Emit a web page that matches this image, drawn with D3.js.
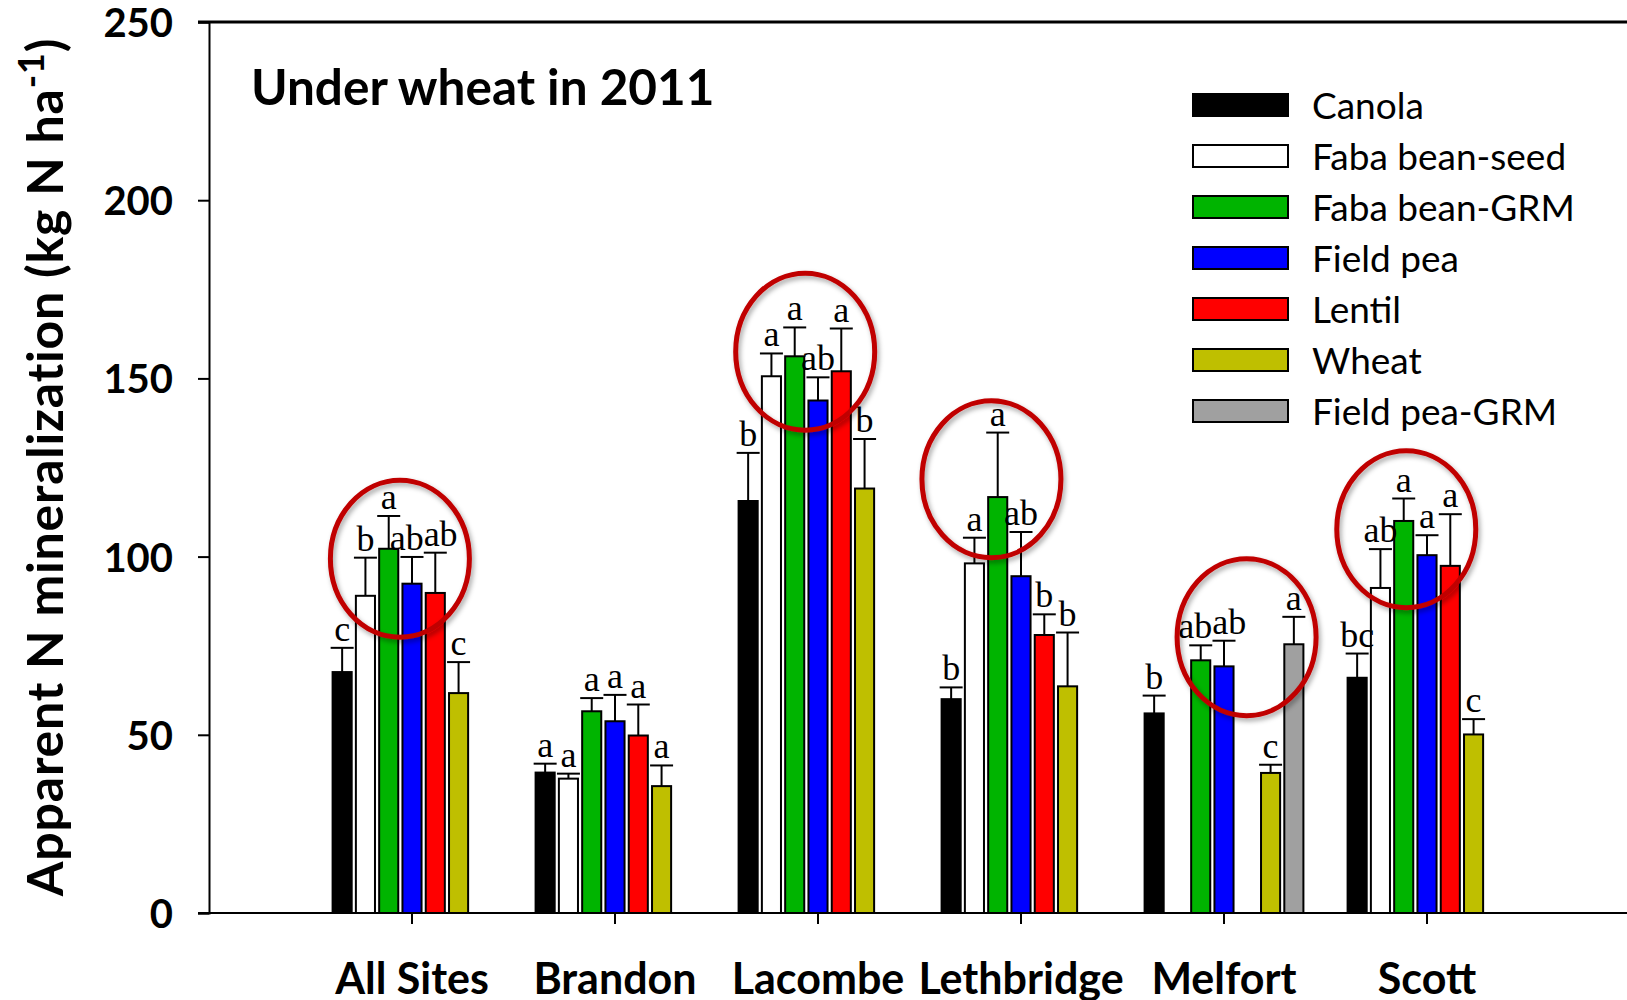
<!DOCTYPE html>
<html>
<head>
<meta charset="utf-8">
<script src="https://cdn.jsdelivr.net/npm/d3@7/dist/d3.min.js"></script>
<style>
  html, body { margin: 0; padding: 0; background: #fff; }
  svg { display: block; }
</style>
</head>
<body>
<svg id="chart" width="1627" height="1000"></svg>
<script>
// Sites along the x axis
const sites = ["All Sites", "Brandon", "Lacombe", "Lethbridge", "Melfort", "Scott"];

// Preceding crop treatments (legend order)
const treatments = ["Canola", "Faba bean-seed", "Faba bean-GRM", "Field pea", "Lentil", "Wheat", "Field pea-GRM"];

// Mean apparent N mineralization (kg N/ha); one row per treatment, one column per site
const means = [
  [67.6, 39.4, 115.6, 60.0, 56.0, 66.0],   // Canola
  [89.0, 37.7, 150.6, 98.1, null, 91.2],   // Faba bean-seed
  [102.2, 56.6, 156.2, 116.7, 70.9, 110.0],// Faba bean-GRM
  [92.4, 53.8, 143.8, 94.5, 69.2, 100.4],  // Field pea
  [89.8, 49.8, 152.0, 78.0, null, 97.4],   // Lentil
  [61.7, 35.6, 119.1, 63.6, 39.3, 50.1],   // Wheat
  [null, null, null, null, 75.4, null]     // Field pea-GRM
];

// Standard errors (upper whisker only)
const errors = [
  [6.8, 2.5, 13.5, 3.3, 5.0, 6.8],
  [10.7, 1.4, 6.4, 7.2, null, 10.9],
  [9.2, 3.7, 8.1, 18.1, 4.2, 6.3],
  [7.5, 7.4, 6.5, 12.4, 7.2, 5.6],
  [11.3, 8.7, 12.0, 5.8, null, 14.5],
  [8.7, 5.8, 13.9, 15.1, 2.3, 4.3],
  [null, null, null, null, 7.7, null]
];

// Mean separation letters
const letters = [
  ["c", "a", "b", "b", "b", "bc"],
  ["b", "a", "a", "a", null, "ab"],
  ["a", "a", "a", "a", "ab", "a"],
  ["ab", "a", "ab", "ab", "ab", "a"],
  ["ab", "a", "a", "b", null, "a"],
  ["c", "a", "b", "b", "c", "c"],
  [null, null, null, null, "a", null]
];

// y axis tick values
const yTicks = [0, 50, 100, 150, 200, 250];

// Highlight rings: site, horizontal offset in bar slots, centre value
const ringSites   = ["All Sites", "Lacombe", "Lethbridge", "Melfort", "Scott"];
const ringOffsets = [-0.52, -0.55, -1.27, 0.97, -0.89];
const ringCentres = [99.4, 157.5, 121.7, 77.4, 107.7];

// ---- styling ----
const fills = {
  "Canola": "#000000",
  "Faba bean-seed": "#ffffff",
  "Faba bean-GRM": "#00b400",
  "Field pea": "#0000ff",
  "Lentil": "#ff0000",
  "Wheat": "#bfbf00",
  "Field pea-GRM": "#a0a0a0"
};
const sans = "Lato, 'Open Sans', sans-serif";

const svg = d3.select("#chart");
const W = 1627;
const plot = { left: 209, top: 22, bottom: 913 };

const y = d3.scaleLinear().domain([0, 250]).range([plot.bottom, plot.top]);

const x0 = d3.scaleBand().domain(sites).range([310.5, 1528.5]).paddingInner(0).paddingOuter(0);
const x1 = d3.scaleBand().domain(treatments)
  .range([x0.bandwidth() / 2 - 81.5, x0.bandwidth() / 2 + 81.5])
  .paddingInner(0.18).paddingOuter(0.09);
const slot = x1.step();

// drop shadow for the highlight rings
const defs = svg.append("defs");
const f = defs.append("filter").attr("id", "ringShadow")
  .attr("x", "-20%").attr("y", "-20%").attr("width", "140%").attr("height", "140%");
f.append("feDropShadow").attr("dx", 2).attr("dy", 3).attr("stdDeviation", 2.5)
  .attr("flood-color", "#000").attr("flood-opacity", 0.35);

// ---- bars ----
const cells = [];
treatments.forEach((t, ti) => {
  sites.forEach((s, si) => {
    const v = means[ti][si];
    if (v == null) return;
    cells.push({ t, s, v, e: errors[ti][si], l: letters[ti][si] });
  });
});

const g = svg.append("g");

g.selectAll("rect.bar").data(cells).join("rect")
  .attr("class", "bar")
  .attr("x", d => x0(d.s) + x1(d.t))
  .attr("y", d => y(d.v))
  .attr("width", x1.bandwidth())
  .attr("height", d => y(0) - y(d.v))
  .attr("fill", d => fills[d.t])
  .attr("stroke", "#000")
  .attr("stroke-width", 2);

// error bars
const cx = d => x0(d.s) + x1(d.t) + x1.bandwidth() / 2;
g.selectAll("line.err").data(cells).join("line")
  .attr("class", "err")
  .attr("x1", cx).attr("x2", cx)
  .attr("y1", d => y(d.v)).attr("y2", d => y(d.v + d.e))
  .attr("stroke", "#000").attr("stroke-width", 2);
g.selectAll("line.cap").data(cells).join("line")
  .attr("class", "cap")
  .attr("x1", d => cx(d) - 11.5).attr("x2", d => cx(d) + 11.5)
  .attr("y1", d => y(d.v + d.e)).attr("y2", d => y(d.v + d.e))
  .attr("stroke", "#000").attr("stroke-width", 2);

// letters above the whiskers
const sig = g.selectAll("text.sig").data(cells.filter(d => d.l)).join("text")
  .attr("class", "sig")
  .attr("x", cx)
  .attr("y", d => y(d.v + d.e) - 7)
  .attr("text-anchor", "middle")
  .attr("font-family", "'Liberation Serif', 'Times New Roman', serif")
  .attr("font-size", 36)
  .attr("fill", "#000")
  .text(d => d.l);

// spread neighbouring letters apart where they would collide
sig.each(function (d) {
  d.w = this.getComputedTextLength();
  d.lx = cx(d);
  d.ly = y(d.v + d.e) - 7;
});
sites.forEach(s => {
  const row = sig.data().filter(d => d.s === s).sort((a, b) => a.lx - b.lx);
  for (let i = 1; i < row.length; i++) {
    const a = row[i - 1], b = row[i];
    if (Math.abs(a.ly - b.ly) > 24) continue;
    const overlap = (a.lx + a.w / 2) - (b.lx - b.w / 2);
    if (overlap > 0) {
      a.lx -= overlap / 2;
      b.lx += overlap / 2;
    }
  }
});
sig.attr("x", d => d.lx);

// ---- axes ----
const yAxis = d3.axisLeft(y).tickValues(yTicks).tickSize(11).tickSizeOuter(11).tickPadding(25);
const ya = svg.append("g").attr("transform", `translate(${plot.left},0)`).call(yAxis);
ya.select(".domain").attr("stroke-width", 2);
ya.selectAll(".tick line").attr("stroke-width", 2);
ya.selectAll(".tick text")
  .attr("font-family", sans)
  .attr("font-weight", "bold")
  .attr("font-size", 40)
  .attr("fill", "#000")
  .attr("dy", "0.36em");

// top rule and baseline across the full width
svg.append("line").attr("x1", plot.left - 11).attr("x2", W)
  .attr("y1", plot.top).attr("y2", plot.top).attr("stroke", "#000").attr("stroke-width", 3);
svg.append("line").attr("x1", plot.left - 11).attr("x2", W)
  .attr("y1", plot.bottom).attr("y2", plot.bottom).attr("stroke", "#000").attr("stroke-width", 2);

const xAxis = d3.axisBottom(x0).tickSize(11).tickSizeOuter(0);
const xa = svg.append("g").attr("transform", `translate(0,${plot.bottom})`).call(xAxis);
xa.select(".domain").remove();
xa.selectAll(".tick line").attr("stroke-width", 2);
xa.selectAll(".tick text")
  .attr("font-family", sans)
  .attr("font-weight", "bold")
  .attr("font-size", 43)
  .attr("fill", "#000")
  .attr("dy", null)
  .attr("y", 81);

// y axis title
const yt = svg.append("text")
  .attr("transform", "translate(63,467) rotate(-90)")
  .attr("text-anchor", "middle")
  .attr("font-family", sans)
  .attr("font-weight", "bold")
  .attr("font-size", 50)
  .attr("letter-spacing", 0.8)
  .attr("fill", "#000");
yt.append("tspan").text("Apparent N mineralization (kg N ha");
yt.append("tspan").attr("dy", -19).attr("font-size", 36).text("-1");
yt.append("tspan").attr("dy", 19).text(")");

// panel title
svg.append("text")
  .attr("x", 251).attr("y", 105)
  .attr("font-family", sans)
  .attr("font-weight", "bold")
  .attr("font-size", 49.5)
  .attr("fill", "#000")
  .text("Under wheat in 2011");

// ---- legend ----
const legend = svg.append("g").attr("transform", "translate(1193,105)");
const items = legend.selectAll("g").data(treatments).join("g")
  .attr("transform", (d, i) => `translate(0,${i * 51})`);
items.append("rect")
  .attr("x", 0).attr("y", -11).attr("width", 95).attr("height", 22)
  .attr("fill", d => fills[d]).attr("stroke", "#000").attr("stroke-width", 2);
items.append("text")
  .attr("x", 119).attr("y", 14)
  .attr("font-family", sans)
  .attr("font-size", 37)
  .attr("fill", "#000")
  .text(d => d);

// ---- highlight rings ----
const ringData = ringSites.map((s, i) => ({ s, dx: ringOffsets[i], v: ringCentres[i] }));
svg.append("g").selectAll("ellipse").data(ringData).join("ellipse")
  .attr("cx", d => x0(d.s) + x0.bandwidth() / 2 + d.dx * slot)
  .attr("cy", d => y(d.v))
  .attr("rx", 69.5).attr("ry", 78.5)
  .attr("fill", "none")
  .attr("stroke", "#c00000")
  .attr("stroke-width", 5)
  .attr("filter", "url(#ringShadow)");
</script>
</body>
</html>
